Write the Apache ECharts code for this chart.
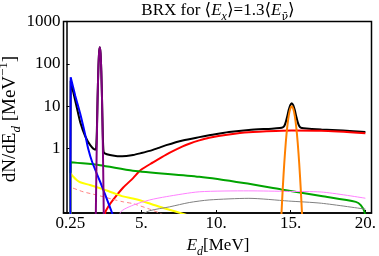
<!DOCTYPE html>
<html><head><meta charset="utf-8">
<script src="https://cdn.jsdelivr.net/npm/echarts@6/dist/echarts.min.js"></script>
<style>html,body{margin:0;padding:0;background:#fff}#c{width:379px;height:256px}</style>
</head><body><div id="c"></div>
<script>
// ---- data (E_d in MeV, dN/dE_d in MeV^-1) ----
const xTickValues = [0.25, 5, 10, 15, 20];
const xTickLabels = ['0.25', '5.', '10.', '15.', '20.'];
const yTickValues = [1, 10, 100, 1000];
const yTickLabels = ['1', '10', '100', '1000'];

const blackData = [[0.25,0.001],[0.27,40],[0.45,21],[0.65,10.4],[0.91,4.2],[1.245,1.95],[1.58,1.2],[1.91,0.94],[1.97,1.0],[2.02,2.4],[2.07,14.6],[2.12,69],[2.17,179],[2.22,247],[2.27,179],[2.32,69],[2.37,14.5],[2.42,2.2],[2.47,0.86],[2.55,0.77],[2.9,0.7],[3.4,0.66],[4.0,0.67],[4.45,0.70],[5.0,0.78],[5.56,0.88],[6.1,1.02],[6.67,1.2],[7.77,1.55],[8.88,1.86],[9.54,2.05],[10.87,2.45],[12.2,2.75],[13.74,2.95],[14.27,3.05],[14.47,3.15],[14.57,3.4],[14.67,4.2],[14.77,5.8],[14.87,8.2],[14.97,10.6],[15.07,11.8],[15.17,10.6],[15.27,8.2],[15.37,5.8],[15.47,4.2],[15.57,3.4],[15.67,3.1],[15.87,3.0],[17.06,2.8],[18.5,2.65],[20.0,2.46]];
const redData = [[2.5,0.005],[2.58,0.03],[2.8,0.043],[3.12,0.062],[3.79,0.12],[4.45,0.2],[4.96,0.31],[5.78,0.47],[6.67,0.72],[7.77,1.12],[8.21,1.3],[8.88,1.56],[9.54,1.8],[10.87,2.15],[12.2,2.42],[14.38,2.62],[15.07,2.66],[17.04,2.62],[20.0,2.3]];
const greenData = [[0.25,0.001],[0.26,0.476],[2.24,0.405],[4.43,0.30],[8.88,0.215],[11.86,0.153],[14.38,0.108],[17.04,0.0755],[19.36,0.055],[19.69,0.046],[19.94,0.032],[20.0,0.02]];
const yellowData = [[0.25,0.001],[0.27,0.26],[0.45,0.215],[0.67,0.18],[0.91,0.16],[1.56,0.137],[2.34,0.112],[3.1,0.09],[3.77,0.074],[4.43,0.066],[4.9,0.06],[6.22,0.042],[7.77,0.029],[8.3,0.025]];
const salmonDashData = [[0.25,0.001],[0.27,0.122],[1.11,0.095],[2.0,0.08],[3.1,0.063],[3.79,0.055],[4.43,0.05],[5.56,0.037],[6.22,0.03],[6.6,0.026]];
const pinkData = [[3.4,0.01],[3.6,0.031],[4.45,0.046],[5.56,0.061],[6.67,0.073],[8.88,0.095],[12.2,0.1],[14.85,0.097],[17.04,0.094],[20.0,0.067]];
const grayData = [[4.9,0.026],[5.56,0.034],[6.9,0.042],[8.21,0.053],[9.54,0.061],[12.2,0.0666],[14.85,0.0575],[17.06,0.051],[20.0,0.037]];
const blueData = [[0.25,0.001],[0.27,48],[0.58,17.5],[0.91,6.6],[1.245,2.1],[1.44,1.0],[1.71,0.48],[2.24,0.165],[2.51,0.094],[3.04,0.03],[3.2,0.02]];
const purpleData = [[1.92,0.0024],[1.97,0.081],[2.02,1.45],[2.07,13.7],[2.12,68],[2.17,178],[2.22,246],[2.27,178],[2.32,68],[2.37,13.7],[2.42,1.45],[2.47,0.081],[2.52,0.0024]];
const orangeData = [[14.27,0.0037],[14.37,0.0234],[14.47,0.116],[14.57,0.45],[14.67,1.37],[14.77,3.26],[14.87,6.0],[14.97,8.7],[15.07,9.9],[15.17,8.7],[15.27,6.0],[15.37,3.26],[15.47,1.37],[15.57,0.45],[15.67,0.116],[15.77,0.0234],[15.87,0.0037]];

const FONT = "'Liberation Serif', 'DejaVu Serif', serif";
const chart = echarts.init(document.getElementById('c'), null, {renderer: 'canvas'});

function line(data, color, width, extra) {
  return Object.assign({
    type: 'line', data: data, showSymbol: false, symbol: 'none', clip: true,
    smooth: 0.25, animation: false,
    lineStyle: {color: color, width: width}
  }, extra || {});
}

const option = {
  animation: false,
  textStyle: {fontFamily: FONT},
  grid: {left: 63.5, right: 4.7, top: 21.5, bottom: 43, show: true, borderColor: '#000', borderWidth: 1.5, containLabel: false},
  xAxis: {
    type: 'value', min: -0.21, max: 20.41,
    splitLine: {show: false},
    axisLine: {show: true, lineStyle: {color: '#000', width: 1.5}},
    axisTick: {show: true, inside: true, length: 3, customValues: xTickValues, lineStyle: {color: '#000', width: 1}},
    axisLabel: {
      customValues: xTickValues, color: '#000', fontFamily: FONT, fontSize: 17, margin: 2,
      formatter: function (v) {
        for (let i = 0; i < xTickValues.length; i++) if (Math.abs(xTickValues[i] - v) < 1e-6) return xTickLabels[i];
        return '';
      }
    }
  },
  yAxis: {
    type: 'log', logBase: 10, min: 0.03, max: 1000,
    splitLine: {show: false},
    axisLine: {show: true, lineStyle: {color: '#000', width: 1.5}},
    axisTick: {show: true, inside: true, length: 3, customValues: yTickValues, lineStyle: {color: '#000', width: 1}},
    axisLabel: {
      customValues: yTickValues, color: '#000', fontFamily: FONT, fontSize: 17, margin: 3,
      formatter: function (v) {
        for (let i = 0; i < yTickValues.length; i++) if (Math.abs(yTickValues[i] - v) / yTickValues[i] < 1e-6) return yTickLabels[i];
        return '';
      }
    }
  },
  graphic: [
    {type: 'text', x: 218, y: 11, silent: true, style: {
      text: 'BRX for ⟨{i|E}{s|x}⟩=1.3⟨{i|E}{n|ν̄}⟩',
      fontFamily: FONT, fontSize: 17, fill: '#000', align: 'center', verticalAlign: 'middle', lineHeight: 24,
      rich: {i: {fontStyle: 'italic', fontFamily: FONT, fontSize: 17, lineHeight: 24},
             s: {fontStyle: 'italic', fontFamily: FONT, fontSize: 12, lineHeight: 12, verticalAlign: 'bottom'},
             n: {fontFamily: "'DejaVu Serif', serif", fontSize: 11, lineHeight: 12, verticalAlign: 'bottom'}}
    }},
    {type: 'text', x: 218, y: 246, silent: true, style: {
      text: '{i|E}{s|d}[MeV]',
      fontFamily: FONT, fontSize: 17, fill: '#000', align: 'center', verticalAlign: 'middle', lineHeight: 24,
      rich: {i: {fontStyle: 'italic', fontFamily: FONT, fontSize: 17, lineHeight: 24},
             s: {fontStyle: 'italic', fontFamily: FONT, fontSize: 12, lineHeight: 12, verticalAlign: 'bottom'}}
    }},
    {type: 'text', x: 10, y: 119, rotation: Math.PI / 2, silent: true, style: {
      text: 'dN/dE{s|d} [MeV{p|−1}]',
      fontFamily: FONT, fontSize: 19, fill: '#000', align: 'center', verticalAlign: 'middle', lineHeight: 26,
      rich: {s: {fontStyle: 'italic', fontFamily: FONT, fontSize: 13, lineHeight: 13, verticalAlign: 'bottom'},
             p: {fontFamily: FONT, fontSize: 13, lineHeight: 13, verticalAlign: 'top'}}
    }}
  ],
  series: [
    line(blackData, '#000000', 2),
    line(redData, '#ff0000', 2),
    line(greenData, '#00a400', 2),
    line(yellowData, '#ffff00', 2),
    line(salmonDashData, '#ff8080', 1, {lineStyle: {color: '#ff8080', width: 1, type: [4, 3]}}),
    line(pinkData, '#ff80ff', 1),
    line(grayData, '#808080', 1),
    line(blueData, '#0000ff', 2),
    line(purpleData, '#800080', 2),
    line(orangeData, '#ff8000', 2)
  ]
};
chart.setOption(option);
</script></body></html>
